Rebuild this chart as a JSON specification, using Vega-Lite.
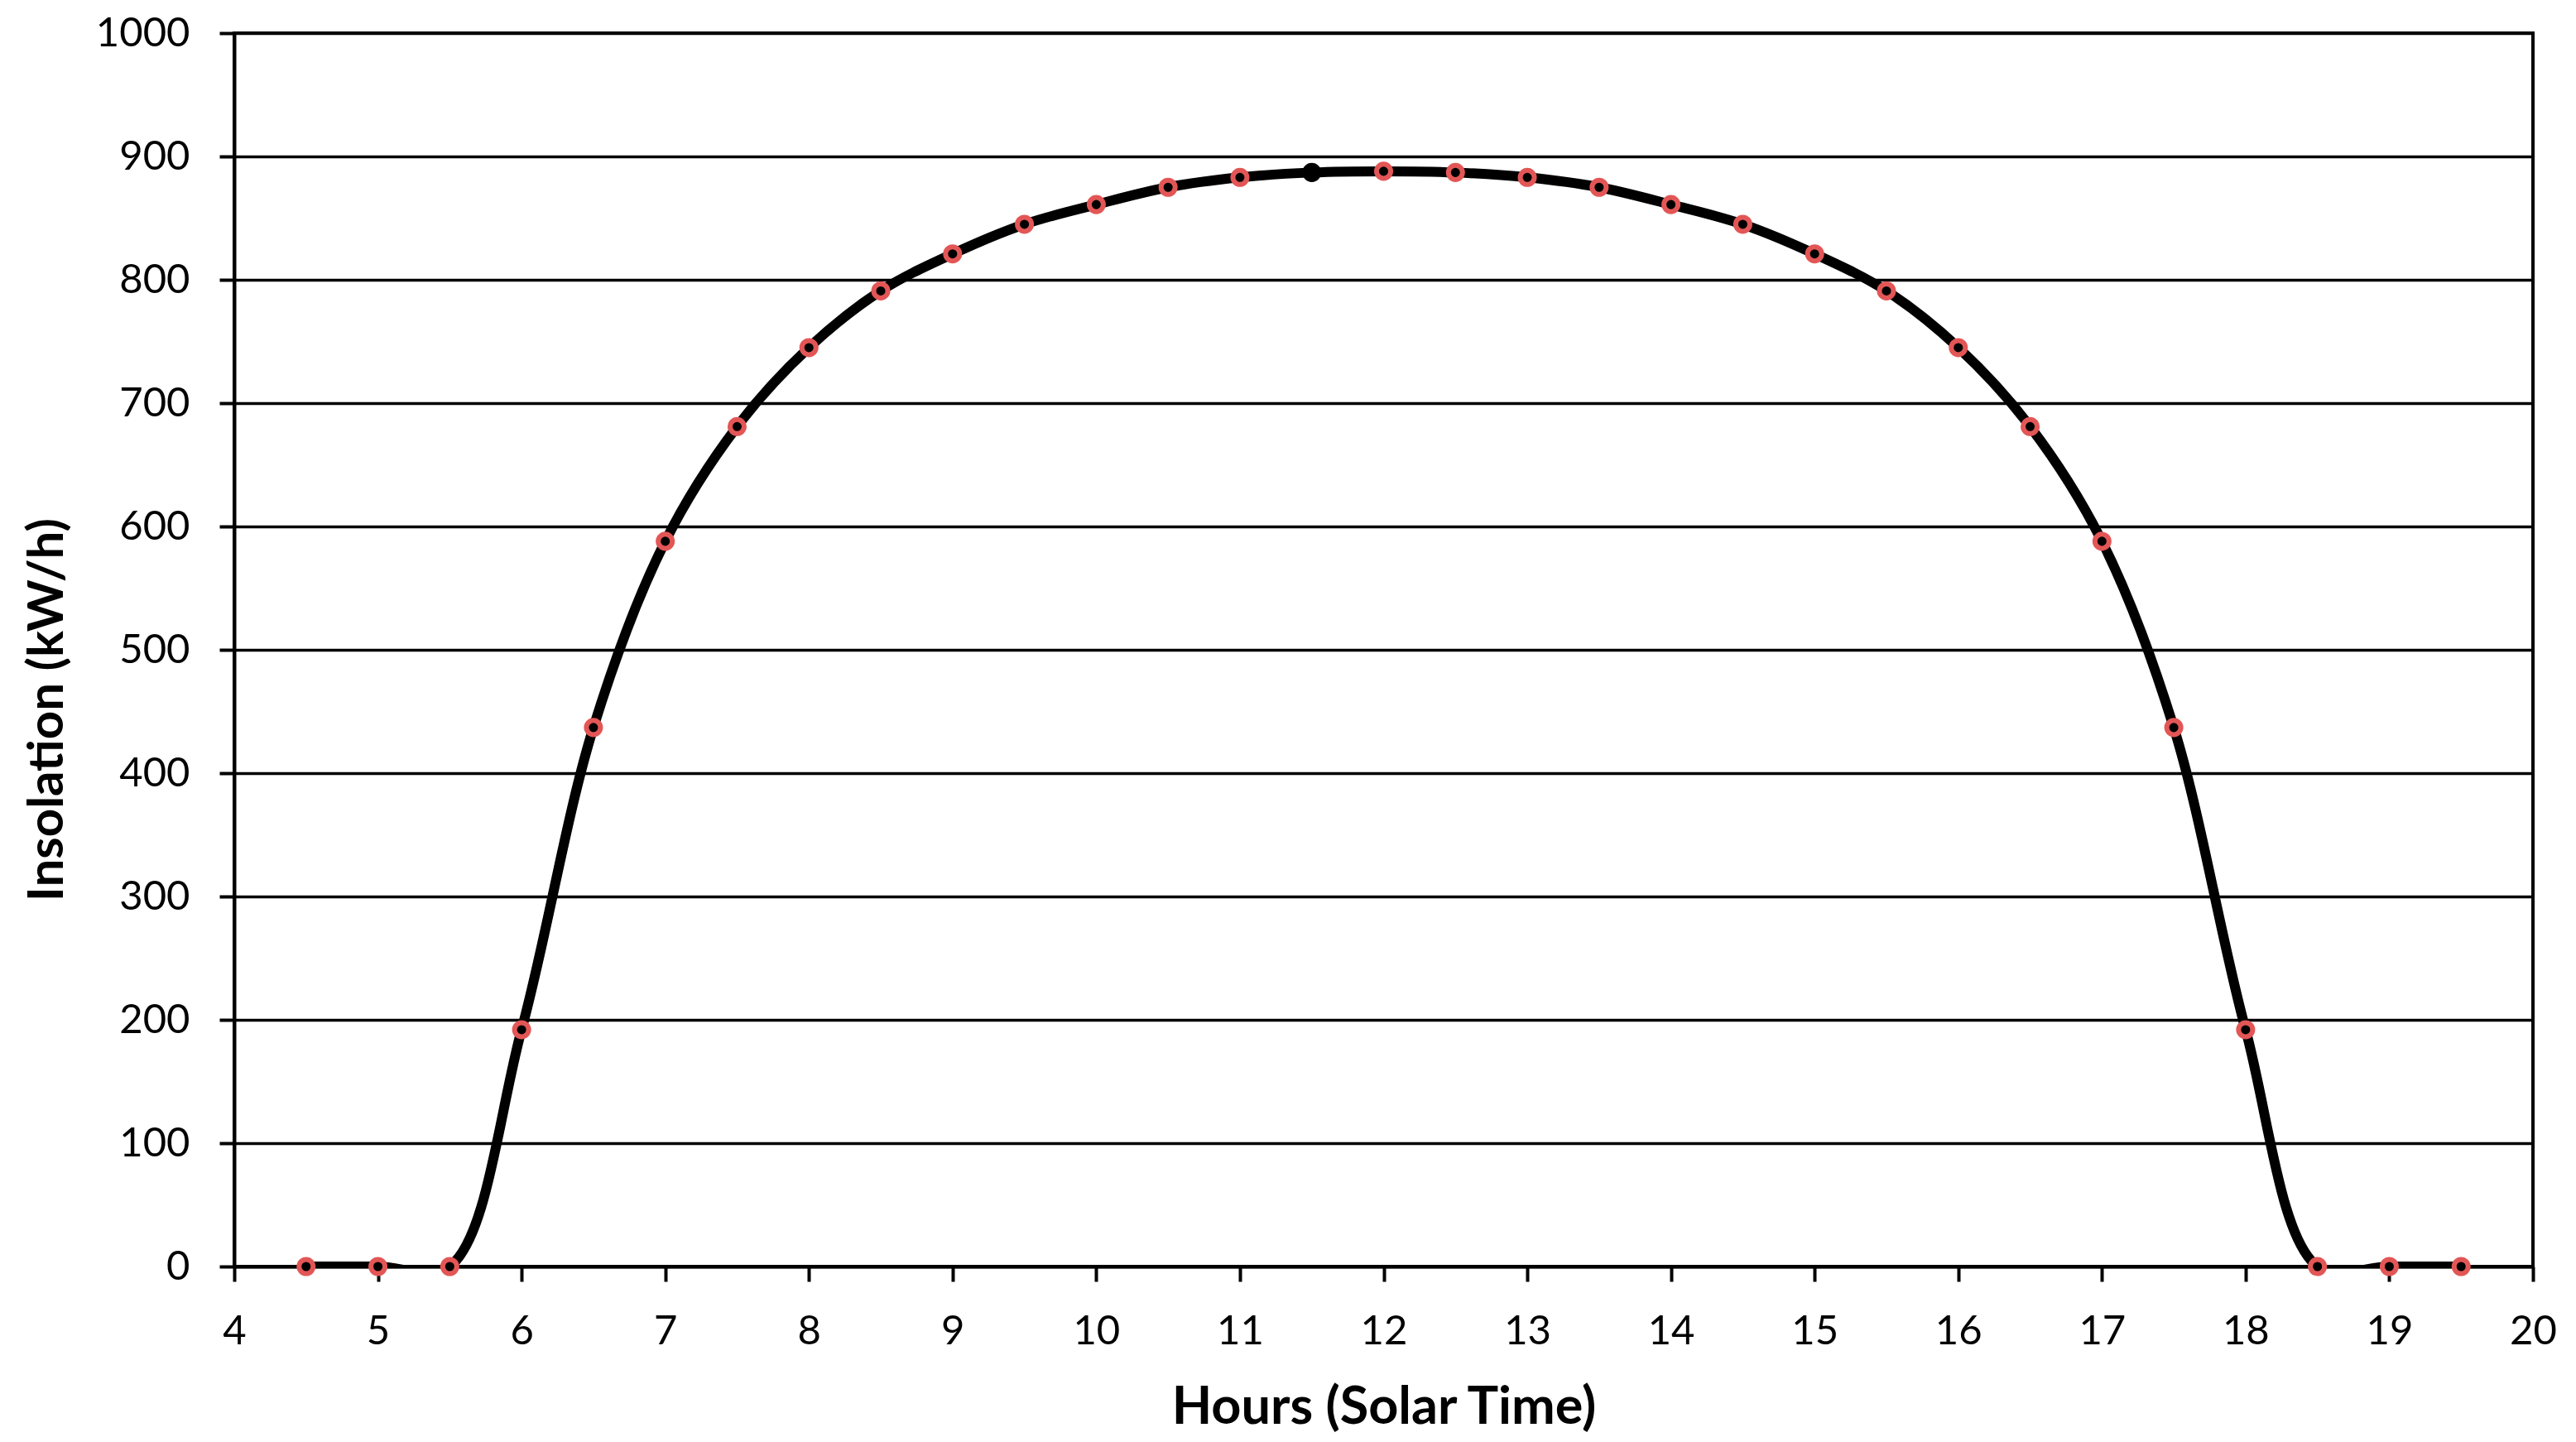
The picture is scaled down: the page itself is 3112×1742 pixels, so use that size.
{
  "$schema": "https://vega.github.io/schema/vega-lite/v6.json",
  "width": 2777,
  "height": 1490,
  "autosize": "none",
  "padding": {"left": 283, "top": 40, "right": 52, "bottom": 212},
  "background": "white",
  "config": {
    "font": "Lato",
    "view": {"stroke": "black", "strokeWidth": 4},
    "axis": {
      "domainColor": "black",
      "domainWidth": 4,
      "tickColor": "black",
      "tickWidth": 4,
      "tickSize": 18,
      "labelFont": "Lato",
      "labelFontSize": 49,
      "labelColor": "black",
      "labelPadding": 36,
      "titleFont": "Lato",
      "titleFontSize": 60,
      "titleFontWeight": "bold",
      "titleColor": "black",
      "gridColor": "black",
      "gridWidth": 3.5,
      "gridOpacity": 1
    }
  },
  "data": {
    "values": [
      {"hour": 4.5, "insolation": 0},
      {"hour": 5, "insolation": 0},
      {"hour": 5.5, "insolation": 0},
      {"hour": 6, "insolation": 192},
      {"hour": 6.5, "insolation": 437},
      {"hour": 7, "insolation": 588},
      {"hour": 7.5, "insolation": 681},
      {"hour": 8, "insolation": 745},
      {"hour": 8.5, "insolation": 791},
      {"hour": 9, "insolation": 821},
      {"hour": 9.5, "insolation": 845},
      {"hour": 10, "insolation": 861},
      {"hour": 10.5, "insolation": 875},
      {"hour": 11, "insolation": 883},
      {"hour": 11.5, "insolation": 887},
      {"hour": 12, "insolation": 888},
      {"hour": 12.5, "insolation": 887},
      {"hour": 13, "insolation": 883},
      {"hour": 13.5, "insolation": 875},
      {"hour": 14, "insolation": 861},
      {"hour": 14.5, "insolation": 845},
      {"hour": 15, "insolation": 821},
      {"hour": 15.5, "insolation": 791},
      {"hour": 16, "insolation": 745},
      {"hour": 16.5, "insolation": 681},
      {"hour": 17, "insolation": 588},
      {"hour": 17.5, "insolation": 437},
      {"hour": 18, "insolation": 192},
      {"hour": 18.5, "insolation": 0},
      {"hour": 19, "insolation": 0},
      {"hour": 19.5, "insolation": 0}
    ]
  },
  "encoding": {
    "x": {
      "field": "hour",
      "type": "quantitative",
      "scale": {"domain": [4, 20], "nice": false, "zero": false},
      "axis": {
        "title": "Hours (Solar Time)",
        "values": [4, 5, 6, 7, 8, 9, 10, 11, 12, 13, 14, 15, 16, 17, 18, 19, 20],
        "format": "d",
        "grid": false,
        "labelFlush": false,
        "titleFontSize": 63,
        "titleBaseline": "alphabetic",
        "titleY": 189
      }
    },
    "y": {
      "field": "insolation",
      "type": "quantitative",
      "scale": {"domain": [0, 1000], "nice": false},
      "axis": {
        "title": "Insolation (kW/h)",
        "values": [0, 100, 200, 300, 400, 500, 600, 700, 800, 900, 1000],
        "format": "d",
        "grid": true,
        "titleBaseline": "alphabetic",
        "titleAngle": -90,
        "titleX": -208,
        "titleY": 817
      }
    }
  },
  "layer": [
    {
      "mark": {"type": "line", "interpolate": "catmull-rom", "clip": true, "color": "black", "strokeWidth": 12}
    },
    {
      "mark": {"type": "point", "filled": true, "fill": "black", "size": 290, "strokeWidth": 6, "opacity": 1},
      "encoding": {
        "stroke": {
          "condition": {"test": "datum.hour === 11.5", "value": "black"},
          "value": "#e35656"
        }
      }
    }
  ]
}
